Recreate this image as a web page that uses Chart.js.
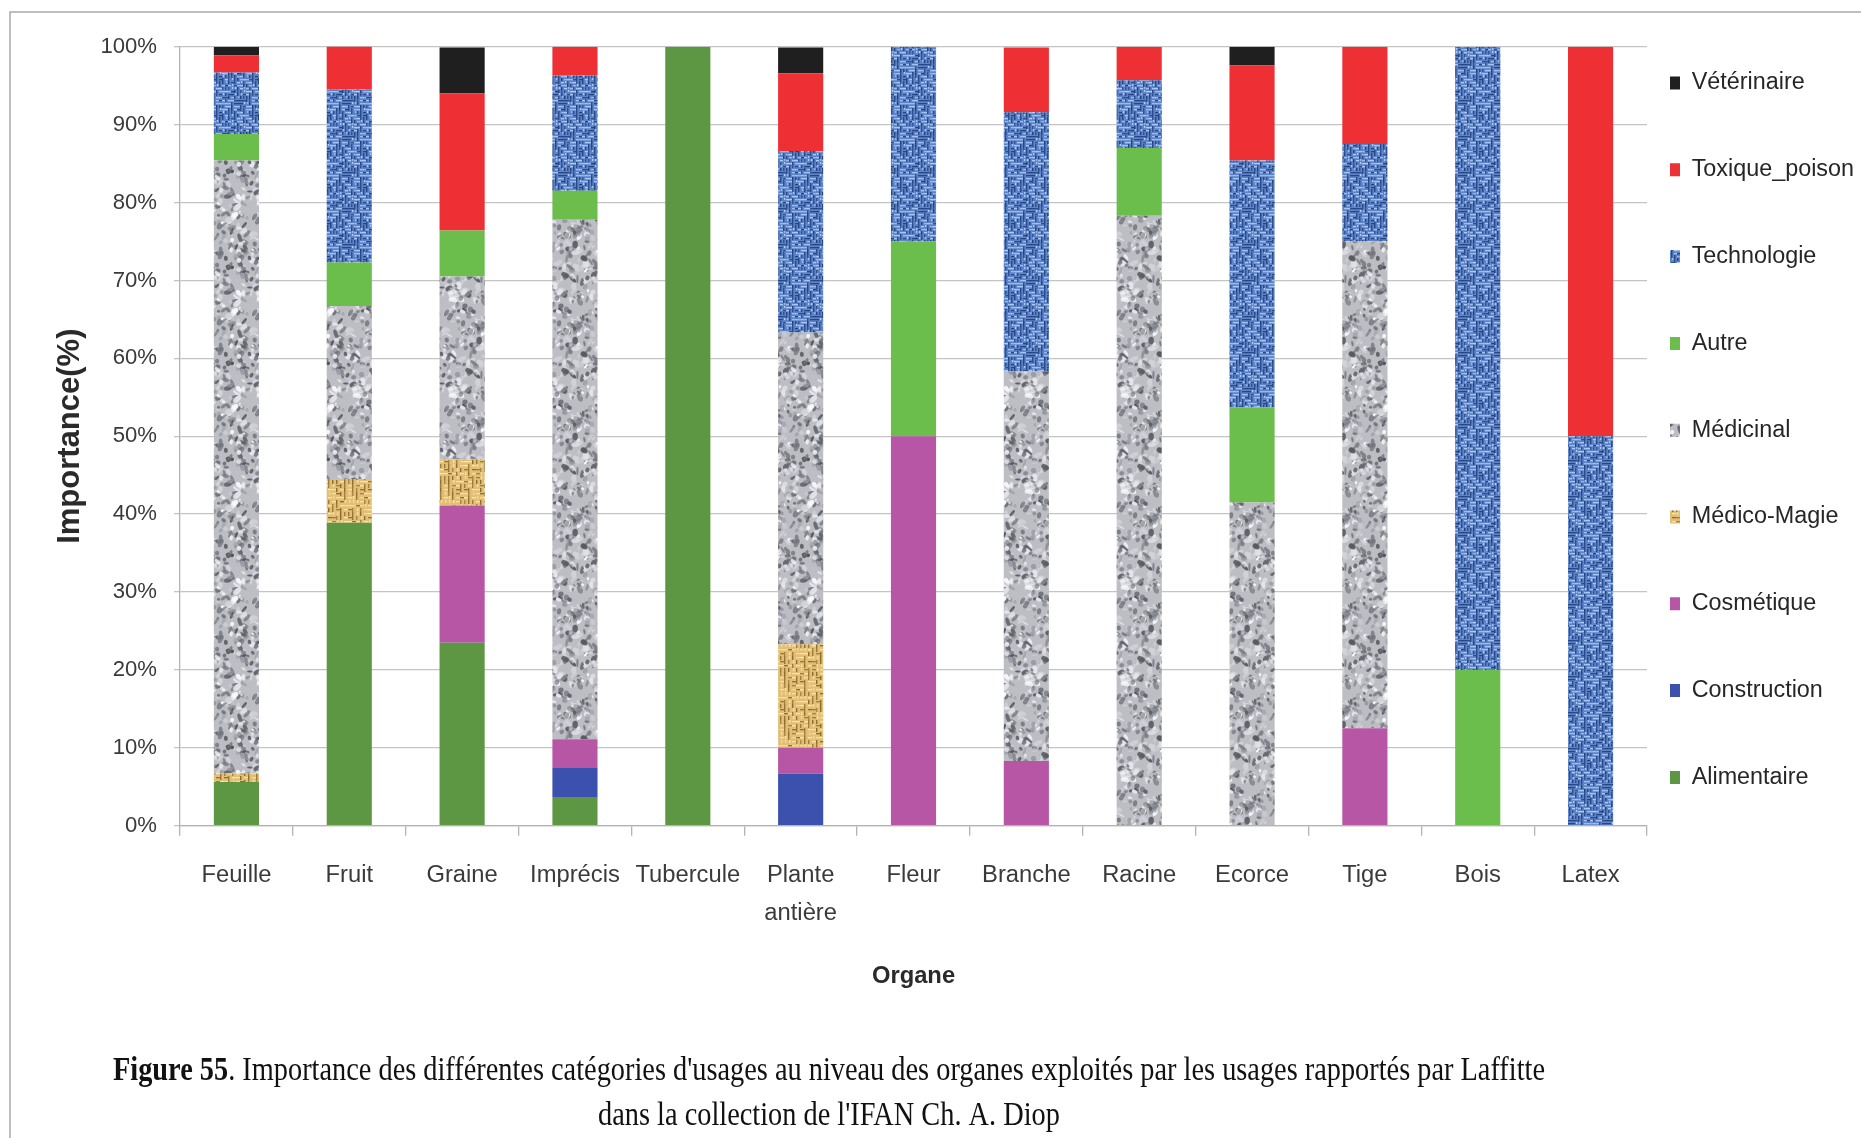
<!DOCTYPE html>
<html lang="fr">
<head>
<meta charset="utf-8">
<title>Figure 55 - Importance des catégories d'usages par organe</title>
<script src="https://cdn.jsdelivr.net/npm/chart.js@4.4.1/dist/chart.umd.min.js"></script>
<style>
  html, body { margin: 0; padding: 0; background: #fff; }
  canvas { display: block; }
</style>
</head>
<body>
<canvas id="chart" width="1861" height="1138"></canvas>
<script>
// Organes exploités (axe X)
const organes = ['Feuille', 'Fruit', 'Graine', 'Imprécis', 'Tubercule', ['Plante', 'antière'],
  'Fleur', 'Branche', 'Racine', 'Ecorce', 'Tige', 'Bois', 'Latex'];

// Catégories d'usage (% par organe), du bas vers le haut de chaque barre
const alimentaire  = [5.6, 38.9, 23.5, 3.7, 100, 0, 0, 0, 0, 0, 0, 0, 0];
const construction = [0, 0, 0, 3.7, 0, 6.7, 0, 0, 0, 0, 0, 0, 0];
const cosmetique   = [0, 0, 17.6, 3.7, 0, 3.3, 50, 8.3, 0, 0, 12.5, 0, 0];
const medicoMagie  = [1.1, 5.6, 5.9, 0, 0, 13.3, 0, 0, 0, 0, 0, 0, 0];
const medicinal    = [78.7, 22.2, 23.5, 66.7, 0, 40, 0, 50, 78.3, 41.5, 62.5, 0, 0];
const autre        = [3.4, 5.6, 5.9, 3.7, 0, 0, 25, 0, 8.7, 12.2, 0, 20, 0];
const technologie  = [7.9, 22.2, 0, 14.8, 0, 23.3, 25, 33.3, 8.7, 31.7, 12.5, 80, 50];
const toxique      = [2.2, 5.6, 17.6, 3.7, 0, 10, 0, 8.3, 4.3, 12.2, 12.5, 0, 50];
const veterinaire  = [1.1, 0, 5.9, 0, 0, 3.3, 0, 0, 0, 2.4, 0, 0, 0];

const seriesNames = ['Alimentaire', 'Construction', 'Cosmétique', 'Médico-Magie', 'Médicinal',
  'Autre', 'Technologie', 'Toxique_poison', 'Vétérinaire'];

const yTickValues = [0, 10, 20, 30, 40, 50, 60, 70, 80, 90, 100];

const captionBold = 'Figure 55';
const captionRest = ". Importance des différentes catégories d'usages au niveau des organes exploités par les usages rapportés par Laffitte";
const captionLine2 = "dans la collection de l'IFAN Ch. A. Diop";

// --- fonts: the original text is a condensed sans, use the narrow face if present
function fontAvailable(family) {
  const c = document.createElement('canvas').getContext('2d');
  const probe = 'Vétérinaire Toxique_poison 100%';
  c.font = '40px monospace';
  const base = c.measureText(probe).width;
  c.font = `40px "${family}", monospace`;
  return Math.abs(c.measureText(probe).width - base) > 0.5;
}
const narrowOk = fontAvailable('Liberation Sans Narrow');
const SANS = narrowOk ? '"Liberation Sans Narrow", "Liberation Sans", Arial, sans-serif'
                      : '"Liberation Sans", Arial, sans-serif';
const K = narrowOk ? 1 : 0.82;

// --- textures for the patterned series (fixed pseudo-random sequence)
function seeded(seed) {
  let s = seed >>> 0;
  return () => { s = (s * 1664525 + 1013904223) >>> 0; return s / 4294967296; };
}

function makeTile(size, draw) {
  const c = document.createElement('canvas');
  c.width = c.height = size;
  draw(c.getContext('2d'), size);
  return document.getElementById('chart').getContext('2d').createPattern(c, 'repeat');
}

// mottled grey stone (Médicinal)
function granite() {
  return makeTile(96, (g, n) => {
    const r = seeded(17);
    g.fillStyle = '#bdbec4';
    g.fillRect(0, 0, n, n);
    const tones = ['#64666e', '#7b7d86', '#9c9ea6', '#e4e5ea', '#f7f7fa', '#55575f', '#d2d3d8'];
    for (let i = 0; i < 360; i++) {
      const x = r() * n, y = r() * n;
      const rx = 1.4 + r() * 3.2, ry = 1 + r() * 1.8;
      const rot = r() * Math.PI;
      g.fillStyle = tones[Math.floor(r() * tones.length)];
      g.globalAlpha = 0.5 + r() * 0.5;
      for (const dx of [-n, 0, n]) for (const dy of [-n, 0, n]) {
        g.beginPath();
        g.ellipse(x + dx, y + dy, rx, ry, rot, 0, Math.PI * 2);
        g.fill();
      }
    }
    g.globalAlpha = 1;
  });
}

// coarse woven cloth (Technologie, Médico-Magie)
function weave(base, dark, light, cell, seed) {
  return makeTile(cell * 12, (g, n) => {
    const r = seeded(seed);
    g.fillStyle = base;
    g.fillRect(0, 0, n, n);
    for (let y = 0; y < n; y += cell) {
      for (let x = 0; x < n; x += cell) {
        const t = r();
        g.globalAlpha = 0.65 + r() * 0.35;
        if (t < 0.38) {
          g.fillStyle = dark;
          g.fillRect(x, y, 1.4, cell);
        } else if (t < 0.68) {
          g.fillStyle = light;
          g.fillRect(x, y + 1, cell, 1.3);
        } else if (t < 0.84) {
          g.fillStyle = dark;
          g.fillRect(x, y + 1, cell, 1.3);
        } else {
          g.fillStyle = light;
          g.fillRect(x + 1, y, 1.3, cell - 1);
        }
      }
    }
    g.globalAlpha = 1;
  });
}

const fills = [
  '#5e9744',                                                     // Alimentaire
  '#3c50ad',                                                     // Construction
  '#b656a4',                                                     // Cosmétique
  weave('#e2bf76', '#8d6a2e', '#fbe7ad', 4, 7),                  // Médico-Magie
  granite(),                                                     // Médicinal
  '#6cbe4c',                                                     // Autre
  weave('#5d84c9', '#22407c', '#b4cdf4', 3, 3),                  // Technologie
  '#ee3034',                                                     // Toxique_poison
  '#1f1f1f'                                                      // Vétérinaire
];
const seriesValues = [alimentaire, construction, cosmetique, medicoMagie, medicinal,
  autre, technologie, toxique, veterinaire];

const datasets = seriesNames.map((name, i) => ({
  label: name,
  data: seriesValues[i],
  backgroundColor: fills[i],
  borderWidth: 0,
  categoryPercentage: 1,
  barPercentage: 0.4
}));

// legend placement (Chart.js puts it against the plot; the original sits a bit further left)
const LEGEND_BOX_X = 1670;
const LEGEND_FIRST_Y = 83;
const LEGEND_FONT = 28.5 * K;
const LEGEND_PAD = 86.8 - LEGEND_FONT;

const legendMover = {
  id: 'legendMover',
  afterLayout(chart) {
    const lg = chart.legend;
    if (!lg) return;
    lg.left = LEGEND_BOX_X - LEGEND_PAD;
    lg.right = chart.width;
    lg.top = LEGEND_FIRST_Y - LEGEND_FONT / 2 - LEGEND_PAD;
    lg.bottom = chart.height;
  }
};

// frame and figure caption
const CAPTION_SIZE = 33;
const frameAndCaption = {
  id: 'frameAndCaption',
  beforeDraw(chart) {
    const { ctx, width, height } = chart;
    ctx.save();
    ctx.fillStyle = '#fff';
    ctx.fillRect(0, 0, width, height);
    ctx.strokeStyle = '#a9a9a9';
    ctx.lineWidth = 1.5;
    ctx.beginPath();
    ctx.moveTo(10, height);
    ctx.lineTo(10, 12);
    ctx.lineTo(width, 12);
    ctx.stroke();
    ctx.restore();
  },
  afterDraw(chart) {
    const ctx = chart.ctx;
    const serif = '"Liberation Serif", "Times New Roman", serif';
    const boldFont = `bold ${CAPTION_SIZE}px ${serif}`;
    const normFont = `${CAPTION_SIZE}px ${serif}`;
    ctx.save();
    ctx.font = boldFont;
    const wb = ctx.measureText(captionBold).width;
    ctx.font = normFont;
    const wr = ctx.measureText(captionRest).width;
    const sx = 1432 / (wb + wr);
    ctx.translate(829, 0);
    ctx.scale(sx, 1);
    ctx.fillStyle = '#111';
    ctx.textBaseline = 'middle';
    const x0 = -(wb + wr) / 2;
    ctx.font = boldFont;
    ctx.fillText(captionBold, x0, 1071);
    ctx.font = normFont;
    ctx.fillText(captionRest, x0 + wb, 1071);
    ctx.textAlign = 'center';
    ctx.fillText(captionLine2, 0, 1116);
    ctx.restore();
  }
};

new Chart(document.getElementById('chart'), {
  type: 'bar',
  data: { labels: organes, datasets },
  options: {
    responsive: false,
    animation: false,
    devicePixelRatio: 1,
    layout: { padding: { left: 12, top: 46.7, right: 0, bottom: 0 } },
    plugins: {
      legend: {
        position: 'right',
        align: 'start',
        reverse: true,
        maxWidth: 214,
        labels: {
          boxWidth: 10,
          boxHeight: 13,
          padding: LEGEND_PAD,
          color: '#262626',
          font: { family: SANS, size: LEGEND_FONT }
        }
      },
      tooltip: { enabled: false }
    },
    scales: {
      x: {
        stacked: true,
        grid: { offset: true, drawOnChartArea: false, drawTicks: true, tickLength: 10, color: '#b3b3b3', lineWidth: 1.3 },
        border: { color: '#b3b3b3', width: 1.3 },
        ticks: {
          autoSkip: false,
          maxRotation: 0,
          padding: 21,
          color: '#3a3a3a',
          font: { family: SANS, size: 29 * K, lineHeight: 38 / (29 * K) }
        },
        title: {
          display: true,
          text: 'Organe',
          color: '#2a2a2a',
          font: { family: SANS, size: 29 * K, weight: 'bold', lineHeight: 1.2 },
          padding: { top: 0, bottom: 147.6 }
        },
        afterFit(scale) { scale.height = 312.3; }
      },
      y: {
        stacked: true,
        min: 0,
        max: 100,
        afterBuildTicks(scale) { scale.ticks = yTickValues.map(v => ({ value: v })); },
        grid: { color: '#c4c4c4', lineWidth: 1.3, tickLength: 6 },
        border: { color: '#b3b3b3', width: 1.3 },
        ticks: {
          padding: 17,
          color: '#3a3a3a',
          font: { family: SANS, size: 27 * K },
          callback: v => v + '%'
        },
        title: {
          display: true,
          text: 'Importance(%)',
          color: '#2a2a2a',
          font: { family: '"Liberation Sans", Arial, sans-serif', size: 31, weight: 'bold', lineHeight: 1.2 },
          padding: { top: 39.4, bottom: 0 }
        },
        afterFit(scale) { scale.width = 168; }
      }
    }
  },
  plugins: [frameAndCaption, legendMover]
});
</script>
</body>
</html>
